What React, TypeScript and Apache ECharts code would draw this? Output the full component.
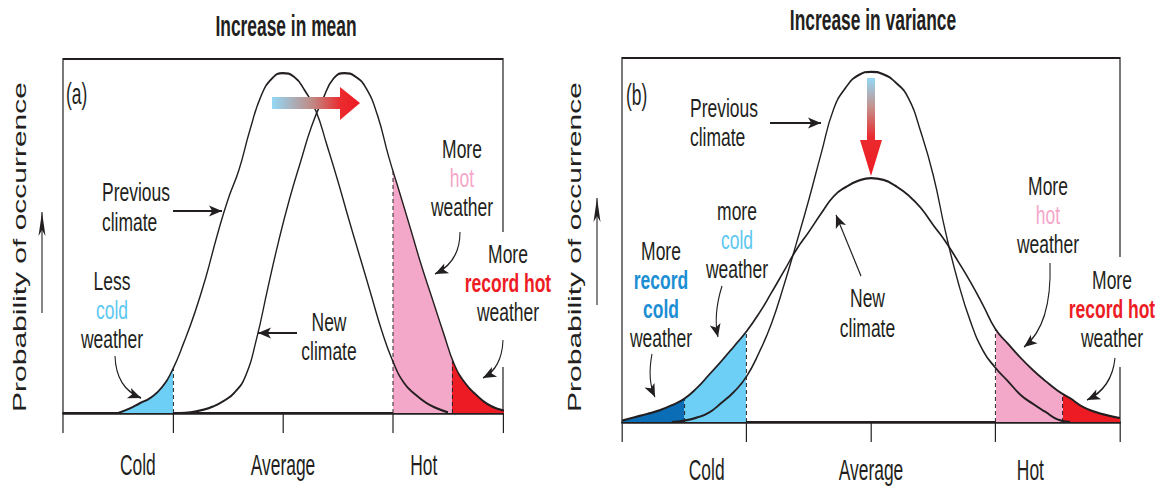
import React, { useEffect, useRef } from "react";
import * as echarts from "echarts";

// The figure is laid out on a wide canvas and narrowed with a CSS scaleX,
// which gives the tall, condensed lettering and thin upright strokes.
const SQUASH = 0.6;
const WIDTH = 1168;
const HEIGHT = 488;

// Temperature axis runs 0 (coldest edge) .. 100 (hottest edge); y is probability 0..100.
const tickValues = [0, 25, 50, 75, 100];
const labelValues = [17, 50, 82];
const labelNames = ["Cold", "Average", "Hot"];

// (a) Increase in mean
const meanPrevX = [12.5, 15, 17.5, 20, 22.5, 25, 27.5, 30, 32.5, 35, 37.5, 40, 42.5, 45, 47.5, 50, 52.5, 55, 57.5, 60, 62.5, 65, 67.5, 70, 72.5, 75, 77.5, 80, 82.5, 85, 87.5];
const meanPrevY = [0, 1.2, 2.8, 4.4, 7.3, 12.5, 20, 28.5, 38.5, 50, 60.3, 68.7, 80, 89.5, 94.5, 96, 95, 91, 85.3, 75.6, 65.4, 54.5, 44, 33.5, 23, 14.5, 8.5, 5.3, 2.9, 1.3, 0.2];
const meanNewX = [26.5, 29, 31.5, 34, 36.5, 39, 41.5, 44, 46.5, 49, 51.5, 54, 56.5, 59, 61.5, 64, 66.5, 69, 71.5, 74, 76.5, 79, 81.5, 84, 86.5, 89, 91.5, 94, 96.5, 99, 101.5];
const meanNewY = [0, 0.2, 0.8, 1.8, 3.4, 5.8, 10.5, 21, 35, 48.5, 60.5, 71, 81, 88.5, 94.5, 96, 95, 91.5, 84, 72.5, 62.3, 52, 41.5, 32, 22.5, 13.5, 8.3, 5, 2.5, 1.1, 0.4];
const meanColdEdge = 25;
const meanHotEdge = 75;
const meanRecordHotEdge = 88.5;
// dashed dividers: [x, height of the curve there]
const meanDividers = [
  [25, 12.5],
  [75, 68.4],
  [88.5, 15.3],
];

// (b) Increase in variance
const varPrevX = [10, 12.5, 15, 17.5, 20, 22.5, 25, 27.5, 30, 32.5, 35, 37.5, 40, 42.5, 45, 47.5, 50, 52.5, 55, 57.5, 60, 62.5, 65, 67.5, 70, 72.5, 75, 77.5, 80, 82.5, 85, 87.5, 90];
const varPrevY = [0, 0.4, 1.2, 2.6, 5.3, 8.3, 12.5, 19, 27, 37.5, 49, 61, 73.8, 86, 92, 95.3, 96.2, 95.5, 93.2, 89, 79.7, 67.8, 52, 38.4, 27.5, 19.6, 14.9, 11.2, 7.5, 5, 2.8, 0.7, 0];
const varNewX = [0, 2.5, 5, 7.5, 10, 12.5, 15, 17.5, 20, 22.5, 25, 27.5, 30, 32.5, 35, 37.5, 40, 42.5, 45, 47.5, 50, 52.5, 55, 57.5, 60, 62.5, 65, 67.5, 70, 72.5, 75, 77.5, 80, 82.5, 85, 87.5, 90, 92.5, 95, 97.5, 100];
const varNewY = [0.4, 1.3, 2.2, 3.2, 4.6, 6.4, 9.3, 13, 16.8, 20.8, 24.9, 29.8, 35.5, 41.4, 47.3, 52.2, 57.3, 62, 64.6, 66.3, 67, 66.5, 64.8, 62.3, 58.8, 54.1, 49.5, 44.1, 38.4, 32.1, 25.5, 21.5, 17.7, 14.3, 11.3, 8.6, 6.5, 4.2, 2.8, 1.8, 1.1];
const varRecordColdEdge = 12.5;
const varColdEdge = 25;
const varHotEdge = 75;
const varRecordHotEdge = 88.5;
const varDividers = [
  [12.5, 6.4],
  [25, 24.9],
  [75, 25.5],
  [88.5, 7.8],
];

const INK = "#231f20";
const LIGHT_BLUE = "#6dcff6";
const DARK_BLUE = "#0b6db5";
const PINK = "#f4a8c9";
const RED = "#ed1c24";
const COLD_TEXT = "#5cc8f0";
const RECORD_COLD_TEXT = "#1b8ed4";
const HOT_TEXT = "#f6a6c8";
const CLEAR = "rgba(255,255,255,0)";
const FONT = "'Liberation Sans', Arial, Helvetica, sans-serif";

// converts a horizontal position on the narrowed page to the wide canvas
const X = (x: number) => x / SQUASH;

type Pt = [number, number];
type Line = string | { t: string; color?: string; bold?: boolean };

function text(
  x: number,
  y: number,
  s: string,
  opts: { color?: string; align?: string; bold?: boolean; size?: number; stretch?: number } = {}
) {
  const { color = INK, align = "center", bold = false, size = 29, stretch = 1 } = opts;
  return {
    type: "text",
    z: 10,
    x: X(x),
    y,
    scaleX: stretch,
    style: {
      text: s,
      x: 0,
      y: 0,
      fill: color,
      font: `${bold ? "bold " : ""}${size}px ${FONT}`,
      align,
      verticalAlign: "middle",
    },
  };
}

// a stacked note, one text per line, centred vertically on yMid
function note(x: number, yMid: number, lines: Line[], align = "center", gap = 29) {
  const top = yMid - ((lines.length - 1) * gap) / 2;
  return lines.map((ln, i) => {
    const item = typeof ln === "string" ? { t: ln } : ln;
    return text(x, top + i * gap, item.t, {
      color: item.color,
      bold: item.bold,
      align,
      size: 26,
      stretch: 1.12,
    });
  });
}

function head(tip: Pt, from: Pt, len = 13, half = 5.5) {
  const dx = tip[0] - from[0];
  const dy = tip[1] - from[1];
  const d = Math.hypot(dx, dy);
  const ux = dx / d;
  const uy = dy / d;
  const bx = tip[0] - ux * len;
  const by = tip[1] - uy * len;
  const nx = tip[0] - ux * len * 0.75;
  const ny = tip[1] - uy * len * 0.75;
  return {
    type: "polygon",
    z: 10,
    shape: {
      points: [
        [X(tip[0]), tip[1]],
        [X(bx - uy * half), by + ux * half],
        [X(nx), ny],
        [X(bx + uy * half), by - ux * half],
      ],
    },
    style: { fill: INK },
  };
}

function straightArrow(from: Pt, tip: Pt, len = 13, half = 5.5) {
  return [
    {
      type: "line",
      z: 10,
      shape: { x1: X(from[0]), y1: from[1], x2: X(tip[0]), y2: tip[1] },
      style: { stroke: INK, lineWidth: 1.8 },
    },
    head(tip, from, len, half),
  ];
}

function curvedArrow(from: Pt, ctrl: Pt, tip: Pt) {
  return [
    {
      type: "bezierCurve",
      z: 10,
      shape: { x1: X(from[0]), y1: from[1], cpx1: X(ctrl[0]), cpy1: ctrl[1], x2: X(tip[0]), y2: tip[1] },
      style: { stroke: INK, lineWidth: 1.8, fill: "none" },
    },
    head(tip, ctrl),
  ];
}

function yTitle(x: number, y: number) {
  return {
    type: "text",
    z: 10,
    x: X(x),
    y,
    rotation: Math.PI / 2,
    style: {
      text: "Probability of occurrence",
      x: 0,
      y: 0,
      fill: INK,
      font: `30px ${FONT}`,
      align: "center",
      verticalAlign: "middle",
    },
  };
}

function frameGap(x: number, y1: number, y2: number) {
  return {
    type: "rect",
    z: 5,
    shape: { x: X(x - 5), y: y1, width: X(10), height: y2 - y1 },
    style: { fill: "#ffffff" },
  };
}

function buildGraphics() {
  const shiftArrow = {
    type: "polygon",
    z: 9,
    shape: {
      points: ([
        [272, 97],
        [340, 97],
        [340, 87],
        [360, 103],
        [340, 120],
        [340, 109],
        [272, 109],
      ] as Pt[]).map(([x, y]) => [X(x), y]),
    },
    style: {
      fill: new echarts.graphic.LinearGradient(0, 0, 1, 0, [
        { offset: 0, color: "#93d8f5" },
        { offset: 0.45, color: "#c08b86" },
        { offset: 0.78, color: "#ea2b2f" },
        { offset: 1, color: RED },
      ]),
    },
  };
  const dropArrow = {
    type: "polygon",
    z: 9,
    shape: {
      points: ([
        [867, 78],
        [875, 78],
        [875, 140],
        [882, 140],
        [871, 176],
        [860, 140],
        [867, 140],
      ] as Pt[]).map(([x, y]) => [X(x), y]),
    },
    style: {
      fill: new echarts.graphic.LinearGradient(0, 0, 0, 1, [
        { offset: 0, color: "#93d8f5" },
        { offset: 0.3, color: "#c4918c" },
        { offset: 0.6, color: "#ea2b2f" },
        { offset: 1, color: RED },
      ]),
    },
  };

  return [
    frameGap(503, 232, 367),
    frameGap(1120, 257, 367),

    text(286, 26, "Increase in mean", { bold: true }),
    text(873, 20, "Increase in variance", { bold: true }),
    yTitle(19.5, 247),
    yTitle(575, 247),
    ...straightArrow([42, 313], [42, 212], 24, 3.5),
    ...straightArrow([597, 305], [597, 198], 24, 3.5),

    // (a)
    text(66, 94, "(a)", { align: "left" }),
    shiftArrow,
    ...note(102, 207, ["Previous", "climate"], "left", 30),
    ...straightArrow([173, 211], [222, 211]),
    ...note(112, 310.5, ["Less", { t: "cold", color: COLD_TEXT }, "weather"]),
    ...curvedArrow([115, 356], [116, 388], [141, 398]),
    ...note(329, 336.5, ["New", "climate"]),
    ...straightArrow([297, 333], [258, 333]),
    ...note(462, 178.5, ["More", { t: "hot", color: HOT_TEXT }, "weather"]),
    ...curvedArrow([460, 232], [460, 262], [435, 274]),
    ...note(508, 283, ["More", { t: "record hot", color: RED, bold: true }, "weather"]),
    ...curvedArrow([503, 340], [502, 368], [483, 378]),

    // (b)
    text(626, 95, "(b)", { align: "left" }),
    dropArrow,
    ...note(690, 122.5, ["Previous", "climate"], "left", 29),
    ...straightArrow([770, 123], [821, 123]),
    ...note(737, 240, ["more", { t: "cold", color: COLD_TEXT }, "weather"]),
    ...curvedArrow([722, 286], [713, 315], [718, 337]),
    ...note(661, 294.5, [
      "More",
      { t: "record", color: RECORD_COLD_TEXT, bold: true },
      { t: "cold", color: RECORD_COLD_TEXT, bold: true },
      "weather",
    ]),
    ...curvedArrow([652, 354], [647, 380], [655, 397]),
    ...note(867.5, 313, ["New", "climate"], "center", 30),
    ...straightArrow([861, 276], [836, 215]),
    ...note(1048, 215.5, ["More", { t: "hot", color: HOT_TEXT }, "weather"]),
    ...curvedArrow([1050, 263], [1052, 325], [1024, 347]),
    ...note(1112, 309.5, ["More", { t: "record hot", color: RED, bold: true }, "weather"]),
    ...curvedArrow([1115, 358], [1112, 388], [1087, 400]),
  ];
}

function xAxis(gridIndex: number, labelMargin: number) {
  return {
    type: "value",
    gridIndex,
    min: 0,
    max: 100,
    interval: 25,
    axisLine: { show: true, onZero: false, lineStyle: { color: INK, width: 2.5 } },
    axisTick: { show: true, length: 20, customValues: tickValues, lineStyle: { color: INK, width: 2 } },
    axisLabel: {
      customValues: labelValues,
      formatter: (v: number) => labelNames[labelValues.indexOf(v)] ?? "",
      margin: labelMargin,
      fontSize: 29,
      fontFamily: FONT,
      color: INK,
    },
    splitLine: { show: false },
  };
}

function yAxis(gridIndex: number) {
  return { type: "value", gridIndex, min: 0, max: 100, show: false };
}

function curve(xs: number[], ys: number[], axis: number, extra: Record<string, unknown> = {}) {
  return {
    type: "line",
    xAxisIndex: axis,
    yAxisIndex: axis,
    data: xs.map((x, i) => [x, ys[i]]),
    smooth: 0.5,
    symbol: "none",
    lineStyle: { color: INK, width: 2.2 },
    ...extra,
  };
}

function dividers(list: number[][]) {
  return {
    silent: true,
    symbol: ["none", "none"],
    label: { show: false },
    lineStyle: { color: INK, type: [4, 3], width: 1.6 },
    data: list.map(([x, y]) => [{ coord: [x, 0] }, { coord: [x, y] }]),
  };
}

function buildOption() {
  const frame = { show: true, borderColor: INK, borderWidth: 2, backgroundColor: "transparent" };
  return {
    animation: false,
    grid: [
      { ...frame, left: X(63), top: 59, width: X(440), height: 354 },
      { ...frame, left: X(622), top: 58, width: X(498), height: 364 },
    ],
    xAxis: [xAxis(0, 37), xAxis(1, 33)],
    yAxis: [yAxis(0), yAxis(1)],
    visualMap: [
      {
        type: "piecewise",
        show: false,
        seriesIndex: 0,
        dimension: 0,
        pieces: [
          { gte: meanHotEdge, lt: meanRecordHotEdge, color: PINK },
          { gte: meanRecordHotEdge, lte: 110, color: RED },
        ],
        outOfRange: { color: CLEAR },
      },
      {
        type: "piecewise",
        show: false,
        seriesIndex: 1,
        dimension: 0,
        pieces: [{ gte: -10, lte: meanColdEdge, color: LIGHT_BLUE }],
        outOfRange: { color: CLEAR },
      },
      {
        type: "piecewise",
        show: false,
        seriesIndex: 2,
        dimension: 0,
        pieces: [
          { gte: -10, lt: varRecordColdEdge, color: DARK_BLUE },
          { gte: varRecordColdEdge, lte: varColdEdge, color: LIGHT_BLUE },
          { gte: varHotEdge, lt: varRecordHotEdge, color: PINK },
          { gte: varRecordHotEdge, lte: 110, color: RED },
        ],
        outOfRange: { color: CLEAR },
      },
    ],
    series: [
      curve(meanNewX, meanNewY, 0, { areaStyle: { opacity: 1 } }),
      curve(meanPrevX, meanPrevY, 0, { areaStyle: { opacity: 1 }, markLine: dividers(meanDividers) }),
      curve(varNewX, varNewY, 1, { areaStyle: { opacity: 1 } }),
      curve(varPrevX, varPrevY, 1, { markLine: dividers(varDividers) }),
    ],
    graphic: buildGraphics(),
  };
}

export default function App() {
  const ref = useRef<HTMLDivElement>(null);
  useEffect(() => {
    if (!ref.current) return;
    const chart = echarts.init(ref.current, undefined, { renderer: "svg" });
    chart.setOption(buildOption() as any);
    return () => chart.dispose();
  }, []);
  return (
    <div
      style={{
        position: "fixed",
        left: 0,
        top: 0,
        width: WIDTH,
        height: HEIGHT,
        overflow: "hidden",
        background: "#ffffff",
      }}
    >
      <div
        ref={ref}
        style={{
          width: WIDTH / SQUASH,
          height: HEIGHT,
          transform: `scaleX(${SQUASH})`,
          transformOrigin: "0 0",
        }}
      />
    </div>
  );
}
